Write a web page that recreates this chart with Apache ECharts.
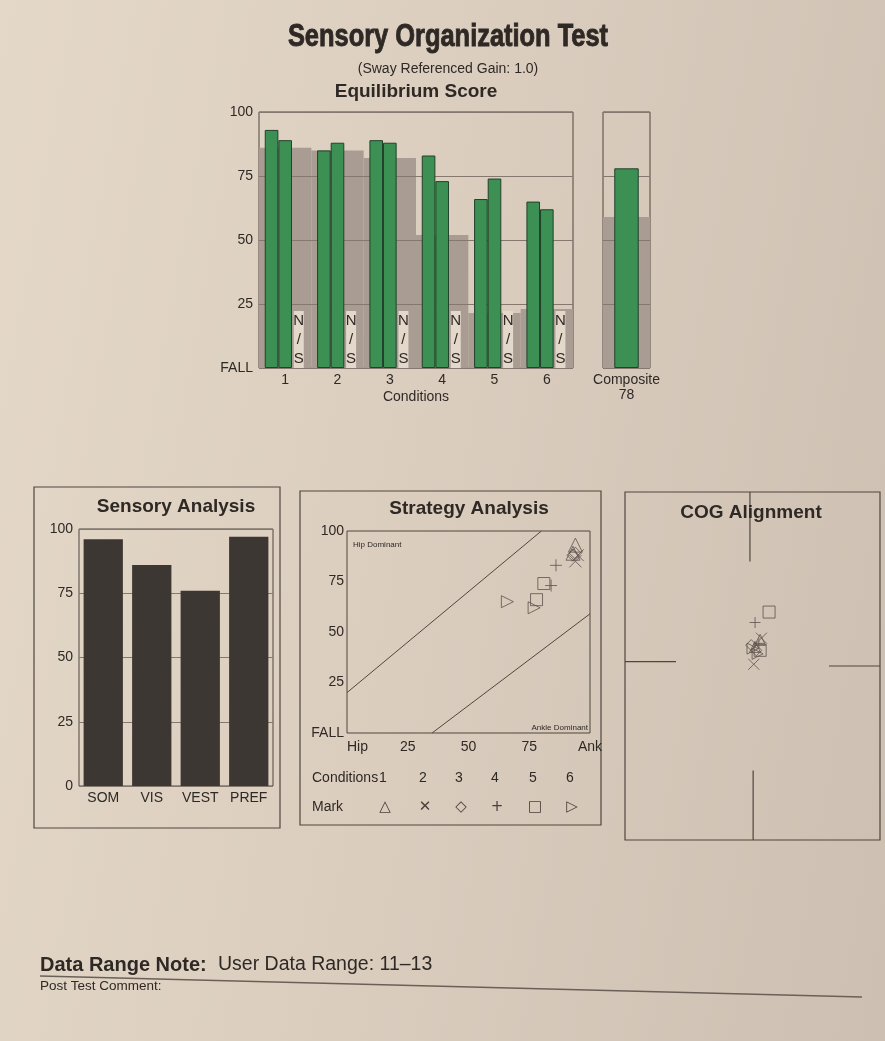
<!DOCTYPE html>
<html><head><meta charset="utf-8">
<script src="https://cdn.jsdelivr.net/npm/echarts@6/dist/echarts.min.js"></script>
<style>
html,body{margin:0;padding:0;width:885px;height:1041px;overflow:hidden;
background:linear-gradient(100deg,#e4d8c9 0%,#dbcebf 45%,#cdc0b2 100%);}
#c{width:885px;height:1041px;}
</style></head><body><div id="c"></div>
<script>
// ---------- data ----------
const conditions = ['1','2','3','4','5','6'];
const trial1 = [93, 85, 89, 83, 66, 65];
const trial2 = [89, 88, 88, 73, 74, 62];
const trial3 = ['N/S','N/S','N/S','N/S','N/S','N/S'];
const normative = [86, 85, 82, 52, 21.5, 23];
const compositeLabel = ['Composite'];
const compositeScore = [78];
const compositeNorm = [59];
const eqTickLabels = {0:'FALL', 25:'25', 50:'50', 75:'75', 100:'100'};

const sensoryCats = ['SOM','VIS','VEST','PREF'];
const sensoryVals = [96, 86, 76, 97];

const strategyT1 = [94, 94, 94, 86, 78, 66];
const strategyT2 = [93, 95, 93, 84, 81, 77];
const strategyXLabels = {0:'Hip', 25:'25', 50:'50', 75:'75', 100:'Ank'};
const hipBoundary = [[0,20],[80,100]];
const ankleBoundary = [[35,0],[100,59]];

const cogT1 = [[0.2,1.1],[0.1,0.1],[0.3,0.9],[0.2,2.5],[1.3,3.1],[0.4,0.7]];
const cogT2 = [[0.6,1.5],[0.7,1.6],[-0.1,1.2],[0.5,1.3],[0.6,0.9],[0.0,1.0]];
const cogRefSegments = [[[-0.2,10],[-0.2,6]], [[0.05,-6],[0.05,-10]], [[-10,0.25],[-6,0.25]], [[6,0],[10,0]]];

const markSymbols = ['triangle','path://M0,0L10,10M10,0L0,10','diamond','path://M5,0L5,10M0,5L10,5','rect','path://M0,0L10,5L0,10Z'];
const markGlyphs = ['\u25B3','\u2715','\u25C7','+','\u25A1','\u25B7'];

// ---------- style ----------
const FF = '"Liberation Sans",Arial,Helvetica,sans-serif';
const TXT = '#2f2925';
const GRIDLINE = '#85786e';
const BORDER = '#51463f';
const GRAY = '#a89c93';
const GREEN = {color:'#3c9053', borderColor:'#22402b', borderWidth:1};
const DARKBAR = '#3d3734';
const MARK = '#5d534c';

function txt(x, y, text, size, opts) {
  opts = opts || {};
  const st = {text:text, fill:opts.fill||TXT,
      font:(opts.bold?'bold ':'') + size + 'px ' + (opts.family||FF),
      textAlign:opts.align||'center', textVerticalAlign:'middle'};
  if (opts.stroke) { st.stroke = opts.fill||TXT; st.lineWidth = opts.stroke; }
  return {type:'text', x:x, y:y, z:10, silent:true, scaleX:opts.scaleX||1, style:st};
}
const lbl = {fontFamily:FF, fontSize:14, color:TXT};

const chart = echarts.init(document.getElementById('c'));

const series = [
  {type:'bar', xAxisIndex:1, yAxisIndex:0, data:normative, barWidth:'100%', itemStyle:{color:GRAY}, z:2, silent:true},
  {type:'bar', xAxisIndex:0, yAxisIndex:0, data:trial1, barWidth:'26%', barGap:'0%', itemStyle:GREEN, z:4},
  {type:'bar', xAxisIndex:0, yAxisIndex:0, data:trial2, barWidth:'26%', barGap:'0%', itemStyle:GREEN, z:4},
  {type:'bar', xAxisIndex:0, yAxisIndex:0, data:trial3.map(function(){return 0;}), barWidth:'26%', barGap:'0%', z:5,
    label:{show:true, position:'top', distance:0, formatter:function(p){return trial3[p.dataIndex].split('').join('\n');},
      fontFamily:FF, fontSize:15, lineHeight:19, color:TXT, backgroundColor:'#e3d8ca', width:10, align:'center', padding:0}},
  {type:'bar', xAxisIndex:3, yAxisIndex:1, data:compositeNorm, barWidth:'100%', itemStyle:{color:GRAY}, z:2, silent:true},
  {type:'bar', xAxisIndex:2, yAxisIndex:1, data:compositeScore, barWidth:'52%', itemStyle:GREEN, z:4},
  {type:'bar', xAxisIndex:4, yAxisIndex:2, data:sensoryVals, barWidth:'81%', itemStyle:{color:DARKBAR}, z:4},
  {type:'line', xAxisIndex:5, yAxisIndex:3, data:hipBoundary, symbol:'none', lineStyle:{color:BORDER, width:1}, z:3},
  {type:'line', xAxisIndex:5, yAxisIndex:3, data:ankleBoundary, symbol:'none', lineStyle:{color:BORDER, width:1}, z:3}
];
conditions.forEach(function(c, i){
  series.push({type:'scatter', xAxisIndex:5, yAxisIndex:3, symbol:markSymbols[i], symbolSize:i===0?14:12,
    data:[[strategyT1[i], trial1[i]], [strategyT2[i], trial2[i]]],
    itemStyle:{color:'rgba(0,0,0,0)', borderColor:MARK, borderWidth:1}, z:5});
});
cogRefSegments.forEach(function(seg){
  series.push({type:'line', xAxisIndex:6, yAxisIndex:4, data:seg, symbol:'none', lineStyle:{color:BORDER, width:1.2}, z:3});
});
conditions.forEach(function(c, i){
  series.push({type:'scatter', xAxisIndex:6, yAxisIndex:4, symbol:markSymbols[i], symbolSize:i===4?12:11,
    data:[cogT1[i], cogT2[i]],
    itemStyle:{color:'rgba(0,0,0,0)', borderColor:MARK, borderWidth:1}, z:5});
});

const graphics = [
  txt(448, 37, 'Sensory Organization Test', 31, {bold:true, scaleX:0.82, stroke:0.9}),
  txt(448, 69, '(Sway Referenced Gain: 1.0)', 14),
  txt(416, 92, 'Equilibrium Score', 19, {bold:true}),
  {type:'rect', shape:{x:34, y:487, width:246, height:341}, style:{fill:'none', stroke:BORDER, lineWidth:1.2}, silent:true},
  {type:'rect', shape:{x:300, y:491, width:301, height:334}, style:{fill:'none', stroke:BORDER, lineWidth:1.2}, silent:true},
  txt(176, 507, 'Sensory Analysis', 19, {bold:true}),
  txt(469, 509, 'Strategy Analysis', 19, {bold:true}),
  txt(751, 513, 'COG Alignment', 19, {bold:true}),
  txt(353, 545, 'Hip Dominant', 8, {align:'left'}),
  txt(588, 728, 'Ankle Dominant', 8, {align:'right'}),
  txt(312, 778, 'Conditions', 14, {align:'left'}),
  txt(312, 807, 'Mark', 14, {align:'left'}),
  txt(40, 965, 'Data Range Note:', 20, {bold:true, align:'left'}),
  txt(218, 965, 'User Data Range: 11\u201313', 19.5, {align:'left'}),
  txt(40, 986, 'Post Test Comment:', 13.5, {align:'left'}),
  {type:'line', shape:{x1:40, y1:976, x2:862, y2:997}, style:{stroke:'#6b6058', lineWidth:1.3}, silent:true}
];
const legendX = [383, 423, 459, 495, 533, 570];
conditions.forEach(function(c, i){
  graphics.push(txt(legendX[i], 778, c, 14));
  graphics.push(txt(legendX[i] + 2, 807, markGlyphs[i], 15, {family:'"DejaVu Sans",sans-serif', fill:'#4a413b'}));
});

chart.setOption({
  animation:false,
  backgroundColor:'transparent',
  grid:[
    {left:259, top:112, width:314, height:256, show:true, borderColor:BORDER, borderWidth:1},
    {left:603, top:112, width:47, height:256, show:true, borderColor:BORDER, borderWidth:1},
    {left:79, top:529, width:194, height:257, show:true, borderColor:BORDER, borderWidth:1},
    {left:347, top:531, width:243, height:202, show:true, borderColor:BORDER, borderWidth:1},
    {left:625, top:492, width:255, height:348, show:true, borderColor:BORDER, borderWidth:1.2}
  ],
  xAxis:[
    {gridIndex:0, type:'category', data:conditions, axisLine:{show:false}, axisTick:{show:false},
      axisLabel:Object.assign({margin:5}, lbl), name:'Conditions', nameLocation:'middle', nameGap:22,
      nameTextStyle:{fontFamily:FF, fontSize:14, color:TXT}},
    {gridIndex:0, type:'category', data:conditions, show:false},
    {gridIndex:1, type:'category', data:compositeLabel, axisLine:{show:false}, axisTick:{show:false},
      axisLabel:Object.assign({margin:5, lineHeight:15, formatter:function(v){return v + '\n' + compositeScore[0];}}, lbl)},
    {gridIndex:1, type:'category', data:compositeLabel, show:false},
    {gridIndex:2, type:'category', data:sensoryCats, axisLine:{show:false}, axisTick:{show:false},
      axisLabel:Object.assign({margin:5, interval:0}, lbl)},
    {gridIndex:3, type:'value', min:0, max:100, interval:25, axisLine:{show:false}, axisTick:{show:false}, splitLine:{show:false},
      axisLabel:Object.assign({margin:7, alignMinLabel:'left', formatter:function(v){return strategyXLabels[v];}}, lbl)},
    {gridIndex:4, type:'value', min:-10, max:10, show:false, splitLine:{show:false}}
  ],
  yAxis:[
    {gridIndex:0, type:'value', min:0, max:100, interval:25, z:3, axisLine:{show:false}, axisTick:{show:false},
      axisLabel:Object.assign({margin:6, formatter:function(v){return eqTickLabels[v];}}, lbl),
      splitLine:{show:true, lineStyle:{color:GRIDLINE, width:1}}},
    {gridIndex:1, type:'value', min:0, max:100, interval:25, z:3, axisLine:{show:false}, axisTick:{show:false},
      axisLabel:{show:false}, splitLine:{show:true, lineStyle:{color:GRIDLINE, width:1}}},
    {gridIndex:2, type:'value', min:0, max:100, interval:25, axisLine:{show:false}, axisTick:{show:false},
      axisLabel:Object.assign({margin:6}, lbl), splitLine:{show:true, lineStyle:{color:GRIDLINE, width:1}}},
    {gridIndex:3, type:'value', min:0, max:100, interval:25, axisLine:{show:false}, axisTick:{show:false}, splitLine:{show:false},
      axisLabel:Object.assign({margin:3, formatter:function(v){return eqTickLabels[v];}}, lbl)},
    {gridIndex:4, type:'value', min:-10, max:10, show:false, splitLine:{show:false}}
  ],
  series:series,
  graphic:{elements:graphics}
});
</script></body></html>
